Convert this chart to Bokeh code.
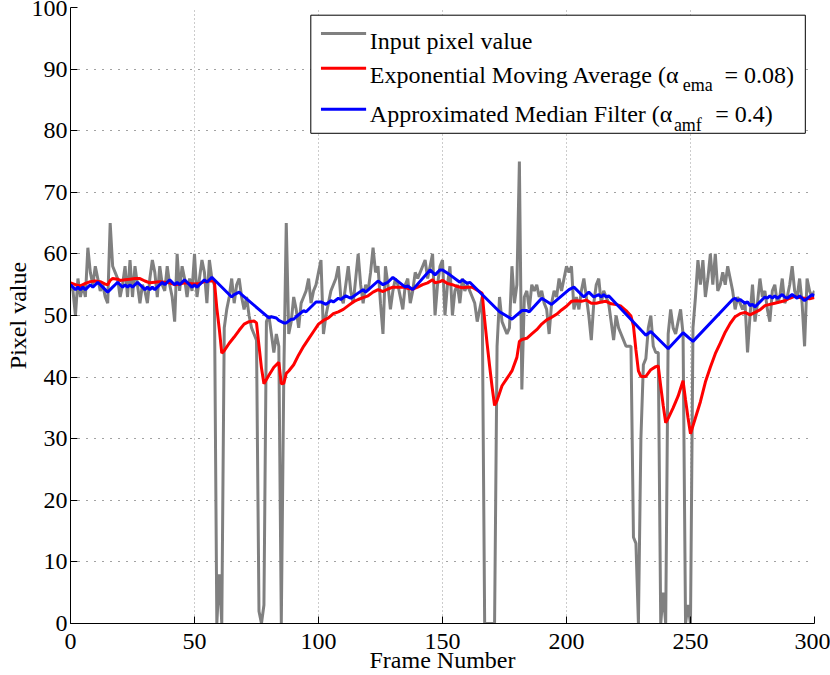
from bokeh.plotting import figure
from bokeh.models import Range1d, FixedTicker, Label
from bokeh.embed import file_html
from bokeh.resources import INLINE

# ---------------- data ----------------
frames = list(range(301))
input_pixel = [
    55, 54, 50, 56, 53, 55, 53, 61, 57, 55,
    58, 56, 54, 55, 53, 52, 65, 58, 57, 56,
    53, 55, 58, 53, 59, 53, 58, 55, 52, 55,
    54, 52, 56, 59, 57, 53, 58, 55, 54, 58,
    55, 53, 49, 60, 54, 58, 56, 53, 56, 54,
    60, 53, 56, 59, 57, 52, 59, 56, 55, 0,
    8, 0, 48, 51, 53, 56, 52, 55, 56, 53,
    51, 53, 50, 48, 47, 46, 2, 0, 3, 49,
    50, 47, 44, 47, 45, 0, 40, 65, 47, 49,
    53, 51, 48, 52, 53, 54, 56, 52, 54, 55,
    57, 59, 47, 50, 52, 54, 55, 56, 58, 53,
    52, 55, 58, 54, 52, 56, 60, 55, 52, 55,
    54, 57, 61, 57, 58, 52, 47, 58, 55, 51,
    54, 56, 55, 53, 51, 55, 56, 52, 54, 57,
    56, 57, 58, 59, 56, 58, 60, 50, 55, 58,
    59, 50, 55, 58, 50, 54, 55, 52, 56, 54,
    55, 54, 53, 52, 49, 51, 53, 0, 0, 0,
    0, 0, 45, 53, 49, 48, 47, 48, 58, 52,
    55, 75, 38, 53, 54, 51, 55, 54, 55, 53,
    54, 52, 51, 47, 52, 54, 53, 56, 54, 56,
    58, 57, 58, 51, 53, 51, 54, 56, 53, 50,
    46, 52, 55, 56, 52, 54, 53, 52, 49, 46,
    50, 48, 47, 46, 45, 45, 45, 14, 13, 0,
    30, 42, 43, 48, 50, 45, 44, 44, 0, 5,
    0, 47, 51, 48, 47, 49, 51, 47, 0, 3,
    0, 48, 53, 59, 55, 59, 53, 56, 60, 55,
    60, 54, 55, 57, 55, 58, 56, 54, 51, 53,
    52, 51, 52, 44, 50, 55, 49, 52, 56, 53,
    54, 51, 49, 54, 55, 52, 53, 56, 52, 53,
    55, 58, 54, 53, 56, 52, 45, 56, 54, 53,
    54,
]

ema_frames = [
    0, 2, 4, 6, 8, 10, 12, 14, 15, 16, 17, 19, 20, 22, 24, 26, 28, 30, 32, 34,
    36, 38, 40, 42, 44, 46, 48, 50, 52, 54, 56, 58, 59, 60, 61, 62, 64, 66, 68, 70,
    72, 74, 75, 76, 77, 78, 80, 82, 84, 85, 86, 87, 88, 90, 92, 94, 96, 98, 100, 102,
    104, 106, 108, 110, 112, 114, 116, 118, 120, 122, 124, 126, 128, 130, 132, 134, 136, 138, 140, 142,
    144, 146, 147, 149, 150, 152, 154, 156, 158, 160, 162, 164, 166, 167, 168, 169, 170, 171, 172, 174,
    176, 178, 180, 181, 182, 184, 186, 188, 190, 192, 194, 196, 198, 200, 202, 204, 206, 208, 210, 212,
    214, 216, 218, 220, 222, 224, 226, 227, 228, 229, 230, 232, 234, 236, 237, 238, 239, 240, 241, 243,
    245, 247, 248, 249, 250, 252, 254, 256, 258, 260, 262, 264, 266, 268, 270, 272, 274, 276, 278, 280,
    282, 284, 286, 288, 290, 292, 294, 296, 298, 300,
]
ema_values = [
    55.3, 55.0, 54.8, 55.2, 55.5, 55.6, 55.5, 55.1, 55.0, 55.7, 56.0, 55.9, 55.7, 55.8, 55.9, 56.0, 56.0, 55.6, 55.3, 55.4,
    55.5, 55.4, 55.3, 55.0, 55.1, 55.3, 55.2, 55.1, 55.2, 55.5, 55.6, 55.6, 51.2, 47.8, 43.9, 44.3, 45.5, 46.5, 47.6, 48.6,
    49.0, 49.1, 48.8, 45.1, 41.5, 38.9, 40.3, 41.6, 42.4, 38.9, 39.0, 40.6, 41.0, 42.0, 43.6, 45.0, 46.2, 47.4, 48.6, 49.2,
    49.6, 50.3, 50.6, 51.0, 51.6, 52.2, 52.6, 52.9, 53.2, 53.8, 54.2, 53.9, 54.3, 54.6, 54.6, 54.6, 54.4, 54.3, 54.6, 55.0,
    55.3, 55.8, 55.3, 55.5, 55.7, 55.2, 55.0, 54.7, 54.5, 54.6, 54.6, 54.1, 53.6, 49.3, 45.4, 41.8, 38.4, 35.4, 36.2, 38.6,
    39.8, 41.0, 43.2, 45.8, 46.1, 46.3, 47.0, 47.7, 48.6, 49.3, 49.7, 50.2, 50.9, 51.5, 52.3, 52.4, 52.3, 52.5, 52.0, 52.0,
    52.2, 52.3, 51.9, 51.8, 51.5, 50.8, 49.9, 48.3, 44.4, 41.0, 40.1, 40.1, 41.2, 41.7, 41.8, 38.5, 35.4, 32.6, 33.3, 35.0,
    36.9, 39.4, 36.3, 33.4, 30.8, 33.4, 36.0, 39.2, 41.6, 43.8, 45.5, 47.3, 48.7, 49.8, 50.3, 50.5, 50.1, 50.5, 50.9, 51.6,
    51.8, 52.0, 52.2, 52.4, 52.8, 53.1, 52.9, 52.8, 52.7, 52.9,
]

amf_frames = [
    0, 1, 2, 3, 4, 5, 6, 7, 8, 9, 10, 11, 12, 13, 14, 15, 16, 17, 18, 19,
    20, 21, 22, 23, 24, 25, 26, 27, 28, 29, 30, 31, 32, 33, 34, 35, 36, 37, 38, 39,
    40, 41, 42, 43, 44, 45, 46, 47, 48, 49, 50, 51, 52, 53, 54, 55, 56, 57, 65, 66,
    68, 69, 80, 81, 83, 84, 86, 87, 89, 90, 91, 94, 95, 99, 101, 103, 105, 106, 108, 109,
    111, 113, 118, 119, 124, 126, 127, 128, 130, 135, 136, 138, 145, 147, 149, 150, 153, 157, 158, 160,
    161, 173, 178, 182, 184, 185, 190, 194, 201, 203, 207, 208, 209, 211, 213, 214, 215, 216, 217, 232,
    234, 241, 247, 251, 267, 268, 269, 270, 272, 273, 274, 275, 276, 280, 281, 282, 283, 284, 285, 287,
    288, 289, 291, 293, 294, 296, 299, 300,
]
amf_values = [
    55.0, 54.6, 54.2, 54.6, 54.2, 54.6, 54.2, 54.6, 55.0, 54.6, 55.0, 55.4, 55.0, 54.6, 54.2, 53.8, 54.2, 54.6, 55.0, 55.4,
    55.0, 54.6, 55.0, 54.6, 55.0, 54.6, 55.0, 55.4, 55.0, 54.6, 54.2, 54.6, 54.2, 54.6, 54.2, 54.6, 55.0, 55.4, 55.0, 55.4,
    55.8, 55.4, 55.0, 55.4, 55.0, 55.4, 55.8, 55.4, 55.0, 54.6, 55.0, 54.6, 55.0, 55.4, 55.8, 55.4, 55.8, 56.2, 53.0, 53.4,
    53.8, 53.4, 49.6, 49.8, 49.6, 49.2, 48.8, 48.8, 49.4, 49.4, 49.8, 50.8, 50.6, 52.2, 52.2, 51.8, 52.4, 52.2, 52.8, 52.6,
    53.2, 52.8, 54.2, 53.8, 55.6, 55.0, 55.2, 55.4, 56.2, 54.6, 54.8, 54.2, 57.4, 56.6, 57.4, 57.4, 56.6, 55.4, 55.8, 55.2,
    55.4, 50.6, 49.4, 50.8, 50.8, 50.6, 52.8, 51.8, 54.2, 54.6, 53.0, 53.4, 53.8, 53.0, 53.4, 53.0, 53.4, 53.0, 53.2, 46.8,
    47.4, 44.6, 47.2, 45.8, 52.6, 52.8, 52.4, 52.6, 52.0, 52.2, 51.6, 51.8, 51.4, 53.0, 52.8, 53.2, 52.8, 53.2, 52.8, 53.4,
    53.0, 52.8, 53.4, 52.8, 53.2, 52.4, 53.4, 53.2,
]

x_ticks = [0, 50, 100, 150, 200, 250, 300]
y_ticks = [0, 10, 20, 30, 40, 50, 60, 70, 80, 90, 100]

# ---------------- styling ----------------
FONT = "Liberation Serif"
GRAY = "#808080"
RED = "#ff0000"
BLUE = "#0000ff"

p = figure(width=830, height=675,
           x_range=Range1d(0, 300), y_range=Range1d(0, 100),
           output_backend="svg", toolbar_location=None,
           min_border_left=70, min_border_right=16,
           min_border_top=7, min_border_bottom=51)
p.outline_line_color = None
p.background_fill_color = "white"
p.border_fill_color = "white"

for ax in (p.xaxis[0], p.yaxis[0]):
    ax.major_tick_in = 7
    ax.major_tick_out = 0
    ax.minor_tick_line_color = None
    ax.axis_line_color = "black"
    ax.axis_line_width = 1
    ax.major_tick_line_color = "black"
    ax.major_label_text_font = FONT
    ax.major_label_text_font_size = "24px"
    ax.major_label_text_color = "black"
    ax.axis_label_text_font = FONT
    ax.axis_label_text_font_size = "24px"
    ax.axis_label_text_font_style = "normal"
    ax.axis_label_text_color = "black"

p.xaxis.ticker = FixedTicker(ticks=x_ticks)
p.yaxis.ticker = FixedTicker(ticks=y_ticks)
p.xaxis.major_label_standoff = 10
p.yaxis.major_label_standoff = 3

p.yaxis.axis_label = "Pixel value"
p.yaxis.axis_label_standoff = -2
p.xaxis.axis_label = "Frame Number"
p.xaxis.axis_label_standoff = -5

p.xgrid.grid_line_color = "#999999"
p.xgrid.grid_line_dash = "1 3"
p.xgrid.grid_line_width = 1
p.ygrid.grid_line_color = "#444444"
p.ygrid.grid_line_dash = "1 7"
p.ygrid.grid_line_width = 1

# ---------------- series ----------------
p.line(frames, input_pixel, line_color=GRAY, line_width=3)
p.line(ema_frames, ema_values, line_color=RED, line_width=3)
p.line(amf_frames, amf_values, line_color=BLUE, line_width=3)

# ---------------- legend (drawn by hand, for the subscripts) ----------------
leg_left, leg_right, leg_top, leg_bottom = 96.9, 296.3, 98.75, 79.58
p.quad(left=[leg_left], right=[leg_right], top=[leg_top], bottom=[leg_bottom],
       fill_color="white", line_color="black", line_width=1)

sample_x0, sample_x1 = 101.0, 119.2
sample_y = [95.78, 90.12, 83.47]
p.segment(x0=[sample_x0] * 3, x1=[sample_x1] * 3, y0=sample_y, y1=sample_y,
          line_color=[GRAY, RED, BLUE], line_width=3)

text_x = 120.7
legend_texts = [
    ("Input pixel value", text_x, 94.54, "24px"),
    ("Exponential Moving Average (\u03b1", text_x, 89.03, "24px"),
    ("ema", 246.9, 87.41, "18px"),
    ("= 0.08)", 263.7, 89.03, "24px"),
    ("Approximated Median Filter (\u03b1", text_x, 82.71, "24px"),
    ("amf", 243.3, 80.93, "18px"),
    ("= 0.4)", 260.0, 82.71, "24px"),
]
for txt, lx, ly, fs in legend_texts:
    p.add_layout(Label(x=lx, y=ly, text=txt, text_align="left",
                       text_baseline="alphabetic", text_font=FONT,
                       text_font_size=fs, text_color="black"))

open("out.html", "w").write(file_html(p, INLINE))
